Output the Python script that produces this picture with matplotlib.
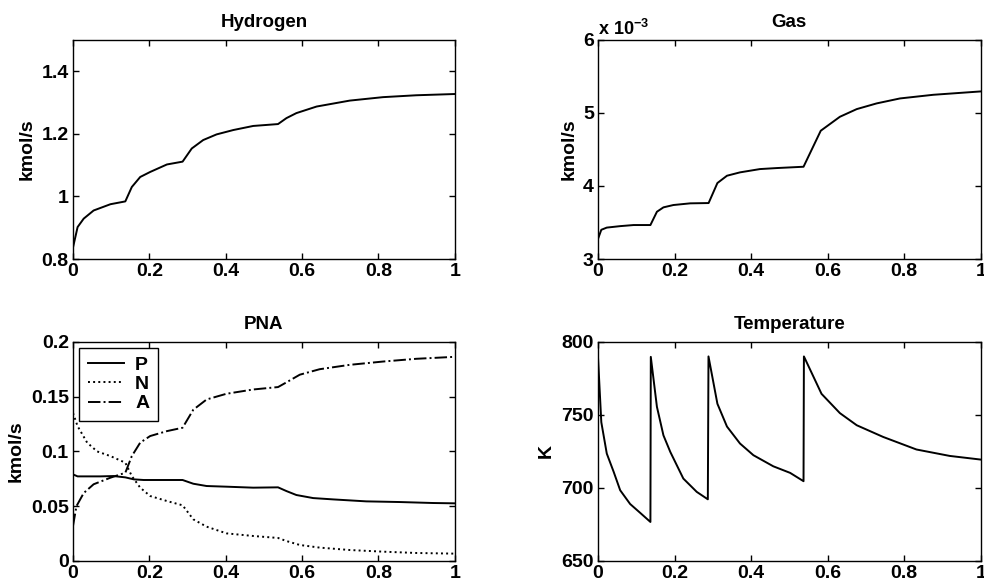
import matplotlib
matplotlib.use("Agg")
import matplotlib.pyplot as plt
from matplotlib.ticker import FuncFormatter

plt.rcParams['font.family'] = ['Liberation Sans', 'DejaVu Sans']
plt.rcParams['font.weight'] = 'bold'
plt.rcParams['axes.labelweight'] = 'bold'
plt.rcParams['axes.titleweight'] = 'bold'
plt.rcParams['mathtext.fontset'] = 'custom'
plt.rcParams['mathtext.bf'] = 'Liberation Sans:bold'
plt.rcParams['mathtext.rm'] = 'Liberation Sans:bold'
plt.rcParams['mathtext.default'] = 'bf'

# Hydrogen flow (kmol/s)
h2_x = [0, 0.012, 0.028, 0.054, 0.098, 0.137, 0.154, 0.176, 0.202, 0.246, 0.287,
        0.311, 0.341, 0.376, 0.42, 0.472, 0.537, 0.559, 0.585, 0.638, 0.725,
        0.812, 0.899, 1.0]
h2_y = [0.837, 0.902, 0.929, 0.955, 0.975, 0.984, 1.03, 1.062, 1.078, 1.102, 1.111,
        1.153, 1.18, 1.198, 1.212, 1.225, 1.231, 1.25, 1.266, 1.287, 1.306,
        1.317, 1.323, 1.327]

# Gas flow (kmol/s)
gas_x = [0, 0.0087, 0.023, 0.058, 0.093, 0.137, 0.154, 0.171, 0.197, 0.241, 0.289,
         0.312, 0.337, 0.371, 0.423, 0.467, 0.537, 0.582, 0.632, 0.676, 0.728,
         0.789, 0.876, 1.0]
gas_y = [3.274e-3, 3.40e-3, 3.43e-3, 3.45e-3, 3.465e-3, 3.465e-3, 3.647e-3, 3.707e-3,
         3.739e-3, 3.762e-3, 3.766e-3, 4.04e-3, 4.14e-3, 4.186e-3, 4.231e-3, 4.245e-3,
         4.263e-3, 4.756e-3, 4.947e-3, 5.052e-3, 5.13e-3, 5.198e-3, 5.248e-3, 5.294e-3]

# PNA flows (kmol/s)
p_x = [0, 0.012, 0.071, 0.106, 0.137, 0.159, 0.185, 0.287, 0.315, 0.35, 0.402,
       0.472, 0.537, 0.559, 0.585, 0.629, 0.681, 0.768, 0.855, 0.943, 1.0]
p_y = [0.079, 0.0772, 0.0772, 0.0775, 0.0763, 0.0745, 0.0739, 0.0739, 0.0705, 0.0684,
       0.0678, 0.0669, 0.0672, 0.0638, 0.0602, 0.0574, 0.0562, 0.0544, 0.0538, 0.0529,
       0.0526]
n_x = [0, 0.012, 0.037, 0.063, 0.098, 0.137, 0.154, 0.176, 0.202, 0.246, 0.287,
       0.315, 0.35, 0.402, 0.472, 0.537, 0.559, 0.594, 0.646, 0.725, 0.812, 0.899, 1.0]
n_y = [0.135, 0.123, 0.108, 0.100, 0.0957, 0.0897, 0.0775, 0.0669, 0.0593, 0.0547,
       0.0508, 0.038, 0.0313, 0.0252, 0.0228, 0.021, 0.0182, 0.0146, 0.0122, 0.010,
       0.0085, 0.0073, 0.0067]
a_x = [0, 0.009, 0.028, 0.054, 0.098, 0.137, 0.154, 0.176, 0.202, 0.246, 0.287,
       0.315, 0.35, 0.402, 0.472, 0.537, 0.559, 0.594, 0.646, 0.725, 0.812, 0.899, 1.0]
a_y = [0.032, 0.050, 0.062, 0.070, 0.076, 0.0805, 0.0957, 0.108, 0.114, 0.1185, 0.1216,
       0.138, 0.1474, 0.1526, 0.1565, 0.1587, 0.163, 0.170, 0.175, 0.179, 0.182,
       0.1845, 0.1863]

# Temperature (K)
t_x = [0, 0.0087, 0.023, 0.041, 0.058, 0.084, 0.110, 0.137, 0.138, 0.154, 0.171,
       0.189, 0.223, 0.258, 0.287, 0.2887, 0.312, 0.337, 0.371, 0.406, 0.458, 0.502,
       0.537, 0.538, 0.584, 0.632, 0.676, 0.745, 0.832, 0.919, 1.0]
t_y = [789.7, 745, 723.5, 711, 698.4, 689, 683, 676.7, 789.7, 755.5, 736, 724.6,
       706.4, 697.3, 692.2, 790, 757.6, 742, 730.4, 722.4, 714.8, 710.3, 704.6, 790,
       764.4, 751.2, 742.9, 734.9, 726.3, 721.9, 719.4]

x_ticks = [0, 0.2, 0.4, 0.6, 0.8, 1]

fig = plt.figure(figsize=(9.84, 5.86), dpi=100)
ax1 = fig.add_axes([0.0742, 0.558, 0.388, 0.374])
ax2 = fig.add_axes([0.6077, 0.558, 0.389, 0.374])
ax3 = fig.add_axes([0.0742, 0.0427, 0.388, 0.374])
ax4 = fig.add_axes([0.6077, 0.0427, 0.389, 0.374])

fmt = FuncFormatter(lambda v, pos: '%g' % round(v, 6))

lw = 1.4
ax1.plot(h2_x, h2_y, 'k-', lw=lw)
ax2.plot(gas_x, gas_y, 'k-', lw=lw)
ax3.plot(p_x, p_y, 'k-', lw=lw, label='P')
ax3.plot(n_x, n_y, 'k:', lw=lw, label='N')
ax3.plot(a_x, a_y, 'k-.', lw=lw, label='A')
ax4.plot(t_x, t_y, 'k-', lw=lw)

ax1.set_ylim(0.8, 1.5)
ax1.set_yticks([0.8, 1, 1.2, 1.4])
ax2.set_ylim(3e-3, 6e-3)
ax2.set_yticks([3e-3, 4e-3, 5e-3, 6e-3])
ax3.set_ylim(0, 0.2)
ax3.set_yticks([0, 0.05, 0.1, 0.15, 0.2])
ax4.set_ylim(650, 800)
ax4.set_yticks([650, 700, 750, 800])

titles = ['Hydrogen', 'Gas', 'PNA', 'Temperature']
ylabels = ['kmol/s', 'kmol/s', 'kmol/s', 'K']
label_x = [-0.097, -0.054, -0.126, -0.112]
for ax, title, yl, lx in zip([ax1, ax2, ax3, ax4], titles, ylabels, label_x):
    ax.set_xlim(0, 1)
    ax.set_xticks(x_ticks)
    ax.xaxis.set_major_formatter(fmt)
    ax.yaxis.set_major_formatter(fmt)
    ax.tick_params(direction='in', length=4.5, width=1, labelsize=14,
                   top=True, right=True, pad=3)
    for sp in ax.spines.values():
        sp.set_linewidth(1)
    ax.set_title(title, fontsize=13.5, pad=9)
    ax.set_ylabel(yl, fontsize=14)
    ax.yaxis.set_label_coords(lx, 0.5)

ax2.yaxis.set_major_formatter(FuncFormatter(lambda v, pos: '%g' % round(v * 1e3, 6)))
ax2.text(0.0, 1.022, r'x 10$^{-3}$', transform=ax2.transAxes, ha='left', va='baseline',
         fontsize=13)

leg = ax3.legend(loc='upper left', fontsize=14, handlelength=1.85, frameon=True,
                 fancybox=False, edgecolor='black', borderaxespad=0.3,
                 borderpad=0.45, labelspacing=0.08, handletextpad=0.6)
leg.get_frame().set_linewidth(1)
leg.get_frame().set_alpha(1)

fig.savefig('out.png', dpi=100)
